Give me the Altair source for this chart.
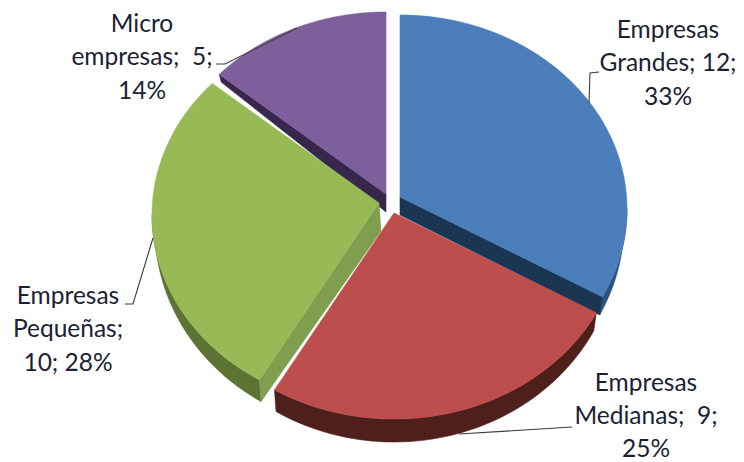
import math
import altair as alt
import pandas as pd

# ---- data ----
categories = ["Empresas Grandes", "Empresas Medianas", "Empresas Pequeñas", "Micro empresas"]
values = [12, 9, 10, 5]
top_colors = ["#4C7EBB", "#BC4F4D", "#98BA56", "#7D5F9C"]
outer_colors = ["#2B5380", "#4F1F1C", "#5C7334", "#37274D"]
radial_colors = ["#1B3652", "#4F1F1C", "#7F9F4E", "#37274D"]
centers_x = [400, 394, 379, 386]
centers_y = [209, 225, 215, 206]
label_lines = [
    ["Micro", "empresas;\u00a0 5;", "14%"],
    ["Empresas", "Grandes;\u00a012;", "33%"],
    ["Empresas", "Pequeñas;", "10; 28%"],
    ["Empresas", "Medianas;\u00a0 9;", "25%"],
]
label_x = [142, 668, 68, 646]
label_y = [32, 38, 304, 390.5]
leaders = [
    [(216, 64), (225, 64), (297, 28)],
    [(599, 72), (590, 73), (589, 103)],
    [(125, 304), (133, 304), (153, 238)],
    [(572, 427), (459, 434)],
]

# ---- perspective pie geometry ----
RX, RY = 227.0, 194.0
APEX_UP = 12.0
total = sum(values)
W, H = 744, 462


def ray_param(angle):
    """Where a ray from the (raised) apex at a true pie angle meets the rim."""
    a = math.radians(angle)
    dx, dy = math.sin(a), -math.cos(a)
    ay = -APEX_UP / RY
    b = ay * dy
    s = -b + math.sqrt(b * b - (ay * ay - 1))
    return math.atan2(s * dx, -(ay + s * dy)) % (2 * math.pi)


def top_pt(i, t):
    return centers_x[i] + RX * math.sin(t), centers_y[i] - RY * math.cos(t)


def bot_pt(i, t):
    return centers_x[i] + (RX - 3) * math.sin(t), centers_y[i] + 14 - (RY + 9) * math.cos(t)


def samples(t0, t1, n=70):
    return [t0 + (t1 - t0) * k / n for k in range(n + 1)]


X = alt.X("x:Q", scale=alt.Scale(domain=[8, 736], nice=False, zero=False), axis=None)
Y = alt.Y("y:Q", scale=alt.Scale(domain=[8, 462], nice=False, zero=False, reverse=True), axis=None)


def poly_chart(points, color):
    rows = [{"x": p[0], "y": p[1], "k": k} for k, p in enumerate(points + points[:1])]
    return (
        alt.Chart(pd.DataFrame(rows))
        .mark_line(fill=color, stroke=color, strokeWidth=0.6, interpolate="linear")
        .encode(x=X, y=Y, order=alt.Order("k:Q"))
    )


starts, ends, acc = [], [], 0
for v in values:
    t0 = ray_param(360 * acc / total)
    acc += v
    t1 = 2 * math.pi if acc == total else ray_param(360 * acc / total)
    starts.append(t0)
    ends.append(t1)

layers = []
for i in [3, 0, 2, 1]:
    t0, t1 = starts[i], ends[i]
    ax, ay = centers_x[i], centers_y[i] - APEX_UP
    apex_bot = (ax + 2, ay + 28) if i == 2 else (ax, ay + 18)
    # the rim wall, only where it faces the viewer
    a, b = max(t0, math.pi / 2), min(t1, 3 * math.pi / 2)
    if b > a:
        ts = samples(a, b)
        layers.append(poly_chart([top_pt(i, t) for t in ts] + [bot_pt(i, t) for t in reversed(ts)], outer_colors[i]))
    # the radial wall that faces the viewer
    if i == 0:
        layers.append(poly_chart([(ax, ay), top_pt(i, t1), bot_pt(i, t1), apex_bot], radial_colors[i]))
    if i in (2, 3):
        layers.append(poly_chart([(ax, ay), top_pt(i, t0), bot_pt(i, t0), apex_bot], radial_colors[i]))
    # the top face
    layers.append(poly_chart([(ax, ay)] + [top_pt(i, t) for t in samples(t0, t1)], top_colors[i]))

for pts in leaders:
    df = pd.DataFrame([{"x": p[0], "y": p[1], "k": k} for k, p in enumerate(pts)])
    layers.append(
        alt.Chart(df).mark_line(color="#3a3a3a", strokeWidth=1.1).encode(x=X, y=Y, order=alt.Order("k:Q"))
    )

rows = []
for lines, lx, ly in zip(label_lines, label_x, label_y):
    for j, s in enumerate(lines):
        rows.append({"x": lx, "y": ly + j * 33.3, "s": s})
layers.append(
    alt.Chart(pd.DataFrame(rows))
    .mark_text(font="Lato", fontSize=24.5, align="center", baseline="alphabetic", color="#1b2233")
    .encode(x=X, y=Y, text="s:N")
)

chart = (
    alt.layer(*layers)
    .properties(
        width=W - 16,
        height=H - 8,
        padding=0,
        background="white",
        autosize=alt.AutoSizeParams(type="none"),
    )
    .configure_view(stroke=None)
)
chart.save("out.html", embed_options={"renderer": "svg", "actions": False})
